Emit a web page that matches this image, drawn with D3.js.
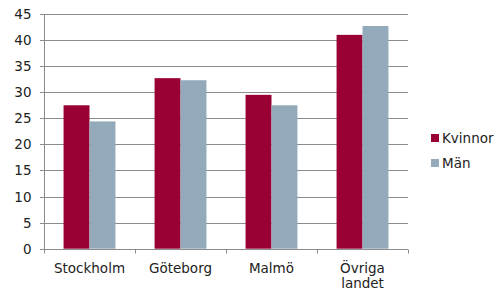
<!DOCTYPE html>
<html>
<head>
<meta charset="utf-8">
<script src="https://cdn.jsdelivr.net/npm/d3@7"></script>
<style>
  body { margin: 0; background: #fff; }
  svg { display: block; font-family: "DejaVu Sans", Verdana, sans-serif; }
</style>
</head>
<body>
<svg id="chart" width="497" height="294"></svg>
<script>
const categories = [["Stockholm"], ["Göteborg"], ["Malmö"], ["Övriga", "landet"]];
const seriesNames = ["Kvinnor", "Män"];
const kvinnor = [27.5, 32.7, 29.5, 41.0];
const man = [24.4, 32.3, 27.5, 42.7];
const yTicks = [0, 5, 10, 15, 20, 25, 30, 35, 40, 45];

const colors = ["#990033", "#93AABB"];
const svg = d3.select("#chart");
const margin = { top: 14, left: 44, right: 89, bottom: 45 };
const width = 497, height = 294;
const fs = 13.5;

const x = d3.scaleBand()
  .domain(d3.range(categories.length))
  .range([margin.left, width - margin.right])
  .paddingInner(0.43)
  .paddingOuter(0.215);
const x1 = d3.scaleBand().domain([0, 1]).range([0, x.bandwidth()]);

const y = d3.scaleLinear().domain([0, 45]).range([height - margin.bottom - 0.3, margin.top]);

const plotX0 = margin.left, plotX1 = width - margin.right;
const step = (plotX1 - plotX0) / categories.length;

// grid lines
svg.append("g")
  .selectAll("line")
  .data(yTicks.slice(1))
  .join("line")
  .attr("x1", plotX0)
  .attr("x2", plotX1)
  .attr("y1", d => Math.round(y(d)) + 0.5)
  .attr("y2", d => Math.round(y(d)) + 0.5)
  .attr("stroke", "#8c8c8c")
  .attr("stroke-width", 1);

// bars
const data = [kvinnor, man];
data.forEach((vals, s) => {
  svg.append("g")
    .selectAll("rect")
    .data(vals)
    .join("rect")
    .attr("x", (d, i) => x(i) + x1(s))
    .attr("y", d => y(d))
    .attr("width", x1.bandwidth())
    .attr("height", d => y(0) - y(d))
    .attr("fill", colors[s]);
});

// y axis
const y0 = Math.round(y(0)) + 0.5;
svg.append("line")
  .attr("x1", plotX0 + 0.5).attr("x2", plotX0 + 0.5)
  .attr("y1", y(45)).attr("y2", y0)
  .attr("stroke", "#8c8c8c");
svg.append("g")
  .selectAll("line")
  .data(yTicks)
  .join("line")
  .attr("x1", plotX0 - 4).attr("x2", plotX0)
  .attr("y1", d => Math.round(y(d)) + 0.5)
  .attr("y2", d => Math.round(y(d)) + 0.5)
  .attr("stroke", "#8c8c8c");
svg.append("g")
  .selectAll("text")
  .data(yTicks)
  .join("text")
  .attr("x", 31.5)
  .attr("y", d => y(d) + 5)
  .attr("text-anchor", "end")
  .attr("font-size", fs)
  .attr("fill", "#222")
  .text(d => d);

// x axis
svg.append("line")
  .attr("x1", plotX0).attr("x2", plotX1)
  .attr("y1", y0).attr("y2", y0)
  .attr("stroke", "#8c8c8c");
svg.append("g")
  .selectAll("line")
  .data(d3.range(categories.length + 1))
  .join("line")
  .attr("x1", i => Math.round(plotX0 + i * step) + 0.5)
  .attr("x2", i => Math.round(plotX0 + i * step) + 0.5)
  .attr("y1", y0).attr("y2", y0 + 4)
  .attr("stroke", "#8c8c8c");

const xl = svg.append("g")
  .selectAll("text")
  .data(categories)
  .join("text")
  .attr("x", (d, i) => plotX0 + (i + 0.5) * step)
  .attr("y", 272.5)
  .attr("text-anchor", "middle")
  .attr("font-size", fs)
  .attr("fill", "#222");
xl.selectAll("tspan")
  .data(d => d)
  .join("tspan")
  .attr("x", function() { return this.parentNode.getAttribute("x"); })
  .attr("dy", (d, i) => i === 0 ? 0 : 15)
  .text(d => d);

// legend
const legend = svg.append("g").attr("transform", "translate(431,134)");
seriesNames.forEach((name, i) => {
  legend.append("rect")
    .attr("x", 0).attr("y", i * 25)
    .attr("width", 8).attr("height", 8)
    .attr("fill", colors[i]);
  legend.append("text")
    .attr("x", 11).attr("y", i * 25 + 8.5)
    .attr("font-size", fs)
    .attr("fill", "#222")
    .text(name);
});
</script>
</body>
</html>
